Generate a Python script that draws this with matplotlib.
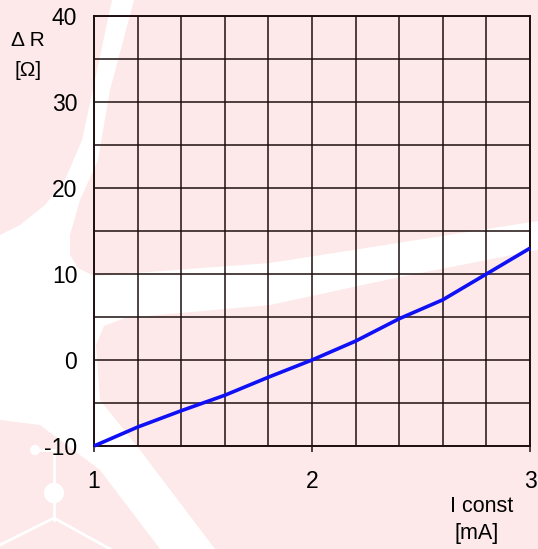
import matplotlib.pyplot as plt
from matplotlib.patches import Polygon, Circle
from matplotlib.lines import Line2D

# delta R vs constant current
current_ma = [1.0, 1.2, 1.4, 1.6, 1.8, 2.0, 2.2, 2.4, 2.6, 2.8, 3.0]
delta_r = [-10.0, -7.8, -5.9, -4.1, -2.0, 0.0, 2.2, 4.8, 7.0, 10.0, 13.0]

x_ticks = [1, 2, 3]
y_ticks = [-10, 0, 10, 20, 30, 40]

W, H = 538, 549
PINK = '#fde9e9'
GRID = '#1e1010'

plt.rcParams['font.family'] = ['Liberation Sans', 'DejaVu Sans']

fig = plt.figure(figsize=(W / 100, H / 100), dpi=100)
fig.patch.set_facecolor(PINK)


def px(points):
    # pixel coords (top-left origin) -> figure fraction
    return [(x / W, 1 - y / H) for x, y in points]


# faint background logo
logo = [(112, 0), (134, 0), (110, 90), (98, 160), (80, 200), (70, 235),
        (70, 255), (78, 268), (94, 276), (270, 263), (538, 221), (538, 250),
        (400, 277), (270, 305), (125, 318), (104, 326), (96, 345), (100, 400),
        (140, 450), (215, 549), (160, 549), (100, 470), (40, 425), (0, 420),
        (0, 235), (20, 225), (45, 205), (65, 180), (82, 140), (95, 80)]
fig.add_artist(Polygon(px(logo), closed=True, transform=fig.transFigure,
                       facecolor='white', edgecolor='none', zorder=0))
for (cx, cy), r in [((35, 450), 5), ((54, 493), 10)]:
    fig.add_artist(Circle(px([(cx, cy)])[0], r / W, transform=fig.transFigure,
                          facecolor='white', edgecolor='none', zorder=0))
for seg in [[(35, 450), (54, 450)], [(54, 450), (54, 520)],
            [(54, 518), (0, 545)], [(54, 518), (110, 549)]]:
    (x0, y0), (x1, y1) = px(seg)
    fig.add_artist(Line2D([x0, x1], [y0, y1], transform=fig.transFigure,
                          color='white', linewidth=2, zorder=0))

ax = fig.add_axes([94 / W, 1 - 446 / H, 436 / W, 430 / H])
ax.set_facecolor('none')

ax.plot(current_ma, delta_r, color='#1010f5', linewidth=2.6, zorder=3,
        solid_capstyle='butt', clip_on=False)

ax.set_xlim(1, 3)
ax.set_ylim(-10, 40)
ax.set_xticks(x_ticks)
ax.set_yticks(y_ticks)
ax.set_xticklabels([str(t) for t in x_ticks])
ax.set_yticklabels([str(t) for t in y_ticks])
ax.set_xticks([1 + 0.2 * i for i in range(11)], minor=True)
ax.set_yticks([-10 + 5 * i for i in range(11)], minor=True)

ax.grid(which='both', color=GRID, linewidth=1.1)
ax.set_axisbelow(True)
for side in ax.spines.values():
    side.set_color(GRID)
    side.set_linewidth(1.4)

ax.tick_params(axis='x', which='major', direction='out', length=4, width=1.1,
               color=GRID, labelsize=16.5, pad=13)
ax.tick_params(axis='y', which='major', length=0, labelsize=16.5, pad=12)
ax.tick_params(which='minor', length=0)

fig.text(28 / W, 1 - 41 / H, '\u0394 R', ha='center', va='center', fontsize=15)
fig.text(28 / W, 1 - 71 / H, '[\u03a9]', ha='center', va='center', fontsize=15)
fig.text(482 / W, 1 - 506 / H, 'I const', ha='center', va='center', fontsize=15.5)
fig.text(477 / W, 1 - 534 / H, '[mA]', ha='center', va='center', fontsize=15.5)

fig.savefig('out.png', dpi=100, facecolor=PINK)
